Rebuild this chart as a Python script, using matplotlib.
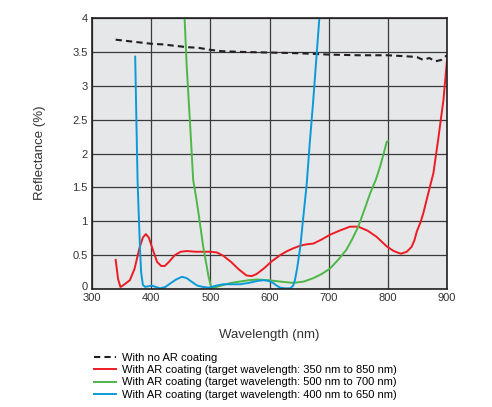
import matplotlib
matplotlib.use("Agg")
import matplotlib.pyplot as plt
from matplotlib.transforms import ScaledTranslation

plt.rcParams['font.family'] = ['Liberation Sans', 'DejaVu Sans']

# no AR coating (dashed black)
wl_none = [340, 360, 380, 400, 420, 440, 460, 480, 500, 520, 550, 600, 650, 700,
           750, 800, 820, 840, 850, 860, 870, 880, 890, 900]
r_none = [3.68, 3.66, 3.64, 3.62, 3.61, 3.59, 3.57, 3.56, 3.53, 3.51, 3.50, 3.49, 3.48, 3.46,
          3.45, 3.45, 3.44, 3.43, 3.42, 3.38, 3.41, 3.36, 3.38, 3.45]

# AR coating 350-850 nm (red)
wl_red = [340, 344, 348, 352, 358, 364, 372, 380, 386, 391, 396, 402, 410, 417, 423, 430,
          440, 450, 460, 475, 488, 500, 511, 522, 535, 548, 561, 570, 578, 590, 604, 618,
          630, 640, 652, 663, 674, 688, 702, 718, 736, 750, 766, 781, 798, 810, 822, 832,
          840, 845, 849, 855, 860, 868, 877, 885, 894, 900]
r_red = [0.43, 0.15, 0.03, 0.05, 0.09, 0.13, 0.30, 0.60, 0.76, 0.81, 0.76, 0.60, 0.40, 0.34,
         0.34, 0.40, 0.50, 0.55, 0.56, 0.55, 0.55, 0.55, 0.54, 0.49, 0.40, 0.29, 0.20, 0.19,
         0.22, 0.30, 0.41, 0.50, 0.56, 0.60, 0.64, 0.66, 0.67, 0.73, 0.80, 0.86, 0.92, 0.92,
         0.86, 0.77, 0.63, 0.56, 0.52, 0.55, 0.62, 0.72, 0.85, 0.98, 1.12, 1.40, 1.71, 2.20,
         2.79, 3.38]

# AR coating 500-700 nm (green)
wl_green = [455, 460, 466, 471, 476, 480, 484, 488, 493, 497, 502, 510, 522, 535, 550, 565,
            578, 598, 618, 640, 658, 674, 688, 702, 716, 730, 740, 750, 760, 770, 780, 787,
            793, 798, 800]
r_green = [4.3, 3.3, 2.4, 1.61, 1.35, 1.12, 0.87, 0.62, 0.38, 0.18, 0.01, 0.03, 0.06, 0.09,
           0.11, 0.13, 0.14, 0.13, 0.11, 0.09, 0.11, 0.16, 0.22, 0.30, 0.43, 0.58, 0.74, 0.92,
           1.16, 1.41, 1.62, 1.81, 2.00, 2.17, 2.18]

# AR coating 400-650 nm (blue)
wl_blue = [373, 375, 377, 379, 381, 383, 386, 390, 395, 401, 408, 415, 424, 432, 442, 452,
           460, 468, 478, 488, 498, 510, 522, 535, 550, 565, 580, 590, 598, 606, 612, 618,
           626, 635, 640, 643, 647, 652, 657, 663, 668, 674, 680, 686]
r_blue = [3.43, 2.5, 1.61, 1.1, 0.62, 0.25, 0.06, 0.03, 0.04, 0.05, 0.03, 0.01, 0.03, 0.08,
          0.14, 0.18, 0.16, 0.11, 0.05, 0.03, 0.02, 0.05, 0.07, 0.07, 0.07, 0.09, 0.12, 0.13,
          0.12, 0.09, 0.05, 0.02, 0.01, 0.01, 0.05, 0.13, 0.32, 0.62, 1.05, 1.56, 2.15, 2.79,
          3.5, 4.2]

labels = ["With no AR coating",
          "With AR coating (target wavelength: 350 nm to 850 nm)",
          "With AR coating (target wavelength: 500 nm to 700 nm)",
          "With AR coating (target wavelength: 400 nm to 650 nm)"]

fig = plt.figure(figsize=(4.92, 4.07), dpi=100)
ax = fig.add_axes([92/492, 1-289/407, 355/492, 271/407])
ax.set_facecolor("#e6e7e8")

ax.plot(wl_none, r_none, color="#231f20", lw=1.5, ls=(0, (3, 2)), label=labels[0])
ax.plot(wl_red, r_red, color="#ed1c24", lw=1.4, label=labels[1])
ax.plot(wl_green, r_green, color="#4db848", lw=1.4, label=labels[2])
ax.plot(wl_blue, r_blue, color="#0b9ad8", lw=1.4, label=labels[3])

ax.set_xlim(300, 900)
ax.set_ylim(0, 4)
ax.set_xticks([300, 400, 500, 600, 700, 800, 900])
ax.set_yticks([0, 0.5, 1, 1.5, 2, 2.5, 3, 3.5, 4])
ax.set_yticklabels(["0", "0.5", "1", "1.5", "2", "2.5", "3", "3.5", "4"])
ax.grid(True, color="#3a3a3a", lw=0.9)
ax.set_axisbelow(True)
ax.tick_params(length=0, labelsize=8, colors="#333333")
ax.tick_params(axis="x", pad=3)
ax.tick_params(axis="y", pad=3)
# nudge "0" up a couple of pixels so it clears "300"
lab0 = ax.get_yticklabels()[0]
lab0.set_transform(lab0.get_transform() + ScaledTranslation(0, 2/72, fig.dpi_scale_trans))
for s in ax.spines.values():
    s.set_linewidth(1.2)
    s.set_color("#231f20")

fig.text(269/492, 1-335/407, "Wavelength (nm)", ha="center", va="center",
         fontsize=9.5, color="#333333")
fig.text(40/492, 1-153/407, "Reflectance (%)", ha="center", va="center",
         rotation=90, fontsize=9.5, color="#333333")

fig.legend(loc="upper left", bbox_to_anchor=(94/492, 1-353/407), frameon=False,
           fontsize=8, handlelength=2.0, handletextpad=0.5, labelspacing=0.2,
           borderaxespad=0, borderpad=0)

fig.savefig("out.png", dpi=100)
